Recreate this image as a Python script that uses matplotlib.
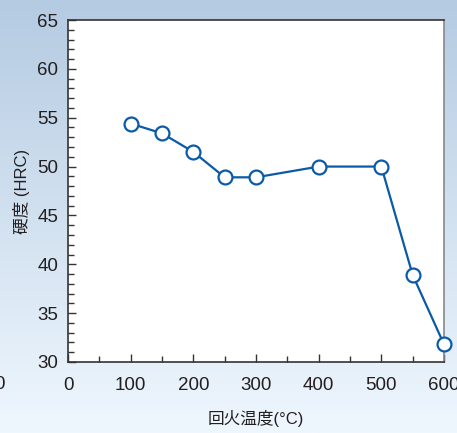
import numpy as np
from matplotlib import pyplot as plt
from matplotlib.ticker import MultipleLocator

plt.rcParams['font.family'] = ['Liberation Sans', 'Noto Sans CJK JP', 'DejaVu Sans']

# 回火温度 (℃) と 硬度 (HRC)
temp = [100, 150, 200, 250, 300, 400, 500, 550, 600]
hrc = [54.4, 53.4, 51.5, 48.9, 48.9, 50.0, 50.0, 38.9, 31.8]

x_ticks = [0, 100, 200, 300, 400, 500, 600]
y_ticks = [30, 35, 40, 45, 50, 55, 60, 65]

fig = plt.figure(figsize=(4.57, 4.33), dpi=100)

# 背景のグラデーション
bg = fig.add_axes([0, 0, 1, 1])
grad = np.linspace(0, 1, 256).reshape(-1, 1)
top_c = np.array([0xb5, 0xcb, 0xe2]) / 255
bot_c = np.array([0xef, 0xf7, 0xfe]) / 255
img = top_c * (1 - grad[..., None]) + bot_c * grad[..., None]
bg.imshow(img, aspect='auto', extent=[0, 1, 0, 1])
bg.axis('off')
bg.text(-0.012, 0.111, '0', fontsize=13.5, color='#231f20', ha='left', va='center')

ax = fig.add_axes([0.1488, 0.164, 0.8228, 0.7898])
ax.set_facecolor('white')
ax.plot(temp, hrc, color='#0a5aa8', lw=1.6, marker='o', ms=10,
        mfc='white', mec='#0a5aa8', mew=1.6, clip_on=False, zorder=5)

ax.set_xlim(0, 600)
ax.set_ylim(30, 65)
ax.set_xticks(x_ticks)
ax.set_yticks(y_ticks)
ax.xaxis.set_minor_locator(MultipleLocator(50))
ax.yaxis.set_minor_locator(MultipleLocator(1))
ax.tick_params(which='major', direction='in', length=6, width=1, color='#333333',
               labelsize=13.5, labelcolor='#231f20')
ax.tick_params(which='minor', direction='in', length=4, width=1, color='#333333')
ax.tick_params(axis='x', pad=11)
ax.tick_params(axis='y', pad=7)

for s in ax.spines.values():
    s.set_color('#333333')
    s.set_linewidth(1.2)
ax.spines['right'].set_color('#888888')

ax.set_xlabel('回火温度(°C)', fontsize=12, color='#231f20', labelpad=11)
ax.set_ylabel('硬度 (HRC)', fontsize=12, color='#231f20', labelpad=5)

fig.savefig('out.png', dpi=100)
